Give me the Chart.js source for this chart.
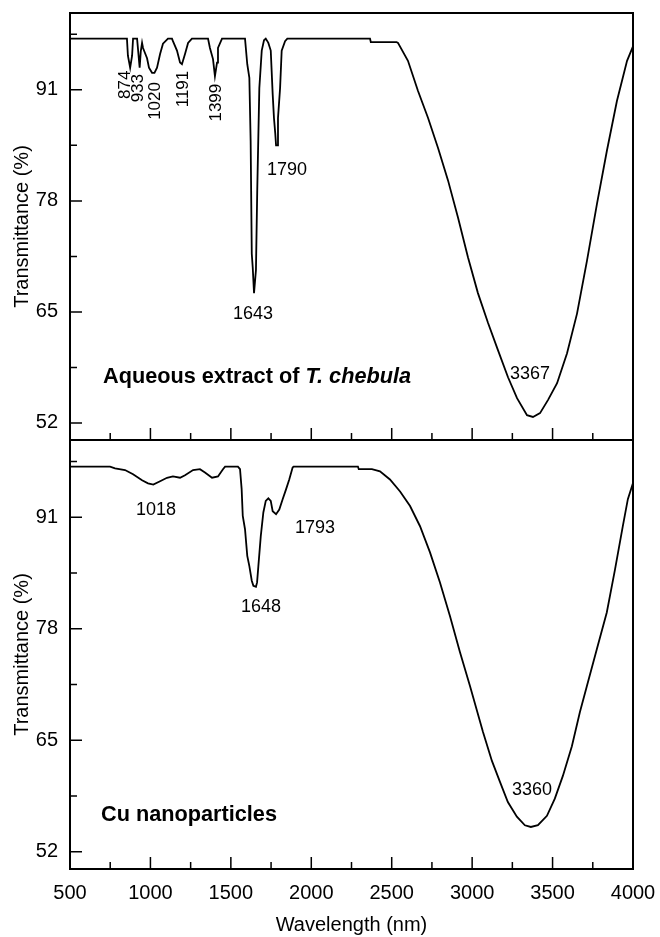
<!DOCTYPE html>
<html>
<head>
<meta charset="utf-8">
<script src="https://cdn.jsdelivr.net/npm/chart.js@4.4.1/dist/chart.umd.min.js"></script>
<style>
  body { margin: 0; background: #fff; width: 660px; height: 937px; position: relative; overflow: hidden; }
  canvas { position: absolute; left: 0; }
  #plotTop { top: 0; }
  #plotBottom { top: 430px; }
</style>
</head>
<body>
<canvas id="plotTop" width="660" height="442"></canvas>
<canvas id="plotBottom" width="660" height="507"></canvas>
<script>
// axis ticks
var xMajor = [500, 1000, 1500, 2000, 2500, 3000, 3500, 4000];
var xMinor = [750, 1250, 1750, 2250, 2750, 3250, 3750];
var yMajor = [52, 65, 78, 91];
var yMinor = [58.5, 71.5, 84.5, 97.5];

// aqueous extract spectrum
var extractWave = [500, 854, 860, 874, 886, 892, 917, 933, 940, 948, 954, 979, 991, 1010, 1025, 1041, 1060, 1078, 1109,
  1134, 1140, 1165, 1184, 1196, 1215, 1234, 1258, 1358, 1370, 1389, 1401, 1414, 1420, 1445, 1588, 1602, 1615, 1623,
  1630, 1636, 1644, 1656, 1664, 1677, 1692, 1706, 1717, 1733, 1748, 1760, 1768, 1776, 1781, 1789, 1793, 1806, 1816,
  1837, 1851, 2365, 2370, 2530, 2539, 2601, 2663, 2726, 2788, 2850, 2912, 2974, 3036, 3099, 3161, 3223, 3279, 3341,
  3378, 3422, 3472, 3528, 3590, 3652, 3714, 3776, 3838, 3900, 3963, 4000];
var extractT = [97.0, 97.0, 95.0, 93.6, 95.0, 97.0, 97.0, 93.6, 95.5, 96.5, 95.9, 94.7, 93.6, 93.0, 93.0, 93.6, 95.2, 96.4, 97.0,
  97.0, 96.7, 95.6, 94.2, 94.0, 95.2, 96.5, 97.0, 97.0, 95.9, 94.6, 92.6, 94.2, 95.9, 97.0, 97.0, 94.0, 92.4, 85.0,
  71.8, 70.2, 67.2, 69.9, 79.2, 91.2, 95.6, 96.8, 97.0, 96.5, 95.6, 90.5, 87.7, 85.9, 84.5, 84.5, 87.7, 91.2, 95.6,
  96.7, 97.0, 97.0, 96.6, 96.6, 96.5, 94.4, 90.9, 87.7, 84.2, 80.4, 76.05, 71.4, 67.2, 63.7, 60.5, 57.35, 54.9, 52.9,
  52.7, 53.15, 54.7, 56.65, 60.15, 64.8, 71.0, 77.65, 83.9, 89.7, 94.4, 96.1];

// Cu nanoparticle spectrum
var cuWave = [500, 749, 780, 842, 892, 948, 985, 1018, 1060, 1103, 1140, 1184, 1215, 1265, 1308, 1339, 1383, 1420, 1451,
  1464, 1544, 1557, 1567, 1574, 1588, 1602, 1615, 1630, 1640, 1656, 1663, 1671, 1686, 1702, 1717, 1733, 1748, 1760,
  1781, 1801, 1822, 1843, 1863, 1884, 1890, 2290, 2295, 2377, 2427, 2489, 2552, 2614, 2676, 2738, 2800, 2862, 2924,
  2987, 3067, 3123, 3173, 3222, 3278, 3328, 3365, 3409, 3465, 3514, 3564, 3620, 3670, 3713, 3775, 3837, 3888, 3937,
  3968, 4000];
var cuT = [96.9, 96.9, 96.7, 96.5, 96.0, 95.3, 94.95, 94.8, 95.2, 95.6, 95.75, 95.6, 95.9, 96.5, 96.6, 96.2, 95.6, 95.75, 96.6,
  96.9, 96.9, 96.6, 94.3, 91.15, 89.6, 86.5, 85.3, 83.6, 83.0, 82.9, 83.4, 85.3, 88.8, 91.55, 92.9, 93.2, 92.9, 91.7,
  91.35, 91.9, 93.1, 94.25, 95.4, 96.8, 96.9, 96.9, 96.6, 96.6, 96.35, 95.4, 94.0, 92.3, 89.95, 86.9, 83.4, 79.5, 75.3,
  71.3, 66.0, 62.6, 60.15, 57.8, 56.1, 55.1, 54.9, 55.1, 56.2, 58.2, 60.85, 64.3, 68.3, 71.3, 75.6, 79.9, 84.9, 90.0,
  93.1, 95.0];

// peak labels (data units)
var extractNotes = ["874", "933", "1020", "1191", "1399", "1643", "1790", "3367"];
var extractNoteX = [842, 923, 1028, 1202, 1408, 1638, 1849, 3360];
var extractNoteY = [91.6, 91.2, 89.7, 91.1, 89.5, 64.8, 81.65, 57.7];
var extractNoteTurned = [true, true, true, true, true, false, false, false];

var cuNotes = ["1018", "1648", "1793", "3360"];
var cuNoteX = [1035, 1687, 2023, 3372];
var cuNoteY = [91.8, 80.5, 89.7, 59.2];
var cuNoteTurned = [false, false, false, false];

var FONT = "'Liberation Sans', Arial, Helvetica, sans-serif";

function toPoints(xs, ys) {
  return xs.map(function (x, i) { return { x: x, y: ys[i] }; });
}

// frame, inward ticks, peak labels and panel caption
function decor(notes, noteX, noteY, turned, caption) {
  return {
    id: "decor",
    afterDraw: function (chart) {
      const ctx = chart.ctx;
      const a = chart.chartArea;
      const xs = chart.scales.x;
      const ys = chart.scales.y;
      ctx.save();
      ctx.strokeStyle = "#000";
      ctx.lineWidth = 2;
      ctx.strokeRect(a.left, a.top, a.right - a.left, a.bottom - a.top);

      ctx.lineWidth = 1.5;
      ctx.beginPath();
      yMajor.forEach(function (v) { const p = ys.getPixelForValue(v); ctx.moveTo(a.left, p); ctx.lineTo(a.left + 12, p); });
      yMinor.forEach(function (v) { const p = ys.getPixelForValue(v); ctx.moveTo(a.left, p); ctx.lineTo(a.left + 7, p); });
      xMajor.forEach(function (v) { const p = xs.getPixelForValue(v); ctx.moveTo(p, a.bottom); ctx.lineTo(p, a.bottom - 12); });
      xMinor.forEach(function (v) { const p = xs.getPixelForValue(v); ctx.moveTo(p, a.bottom); ctx.lineTo(p, a.bottom - 7); });
      ctx.stroke();

      ctx.fillStyle = "#000";
      ctx.textAlign = "center";
      ctx.textBaseline = "middle";
      notes.forEach(function (t, i) {
        const px = xs.getPixelForValue(noteX[i]);
        const py = ys.getPixelForValue(noteY[i]);
        ctx.save();
        ctx.translate(px, py);
        if (turned[i]) {
          ctx.rotate(-Math.PI / 2);
          ctx.font = "17px " + FONT;
        } else {
          ctx.font = "18px " + FONT;
        }
        ctx.fillText(t, 0, 0);
        ctx.restore();
      });

      // caption: parts drawn one after another, some in italic
      let cx = xs.getPixelForValue(caption.x);
      const cy = ys.getPixelForValue(caption.y);
      ctx.textAlign = "left";
      caption.parts.forEach(function (part) {
        ctx.font = (part.italic ? "italic " : "") + "bold 21.7px " + FONT;
        ctx.fillText(part.text, cx, cy);
        cx += ctx.measureText(part.text).width;
      });
      ctx.restore();
    }
  };
}

function makeOptions(showX) {
  return {
    responsive: false,
    animation: false,
    layout: { padding: { left: 0, right: 27, top: showX ? 10 : 13, bottom: showX ? 0 : 2 } },
    plugins: { legend: { display: false }, tooltip: { enabled: false } },
    elements: { point: { radius: 0 }, line: { borderWidth: 1.8, tension: 0 } },
    scales: {
      x: {
        type: "linear",
        min: 500,
        max: 4000,
        grid: { display: false, drawTicks: false },
        border: { display: false },
        ticks: {
          display: showX, padding: 12, color: "#000", font: { size: 20, family: FONT },
          maxRotation: 0, autoSkip: false,
          callback: function (v) { return String(v); }
        },
        afterBuildTicks: function (s) { s.ticks = xMajor.map(function (v) { return { value: v }; }); },
        afterFit: function (s) {
          s.height = showX ? 68 : 0;
          s.paddingLeft = 0; s.paddingRight = 0; s.paddingTop = 0; s.paddingBottom = 0;
        },
        title: {
          display: showX, text: "Wavelength (nm)", color: "#000",
          font: { size: 20, family: FONT }, padding: { top: 0, bottom: 0 }
        }
      },
      y: {
        type: "linear",
        min: 50,
        max: 100,
        grid: { display: false, drawTicks: false },
        border: { display: false },
        ticks: { padding: 12, color: "#000", font: { size: 20, family: FONT }, callback: function (v) { return String(v); } },
        afterBuildTicks: function (s) { s.ticks = yMajor.map(function (v) { return { value: v }; }); },
        afterFit: function (s) {
          s.width = 70;
          s.paddingLeft = 0; s.paddingRight = 0; s.paddingTop = 0; s.paddingBottom = 0;
        },
        title: {
          display: true, text: "Transmittance (%)", color: "#000",
          font: { size: 20, family: FONT }, padding: { top: 10, bottom: 0 }
        }
      }
    }
  };
}

new Chart(document.getElementById("plotTop").getContext("2d"), {
  type: "line",
  data: {
    datasets: [{
      label: "Aqueous extract",
      data: toPoints(extractWave, extractT),
      borderColor: "#000",
      fill: false
    }]
  },
  options: makeOptions(false),
  plugins: [decor(extractNotes, extractNoteX, extractNoteY, extractNoteTurned, {
    x: 705, y: 57.35,
    parts: [{ text: "Aqueous extract of ", italic: false }, { text: "T. chebula", italic: true }]
  })]
});

new Chart(document.getElementById("plotBottom").getContext("2d"), {
  type: "line",
  data: {
    datasets: [{
      label: "Cu nanoparticles",
      data: toPoints(cuWave, cuT),
      borderColor: "#000",
      fill: false
    }]
  },
  options: makeOptions(true),
  plugins: [decor(cuNotes, cuNoteX, cuNoteY, cuNoteTurned, {
    x: 693, y: 56.3,
    parts: [{ text: "Cu nanoparticles", italic: false }]
  })]
});
</script>
</body>
</html>
